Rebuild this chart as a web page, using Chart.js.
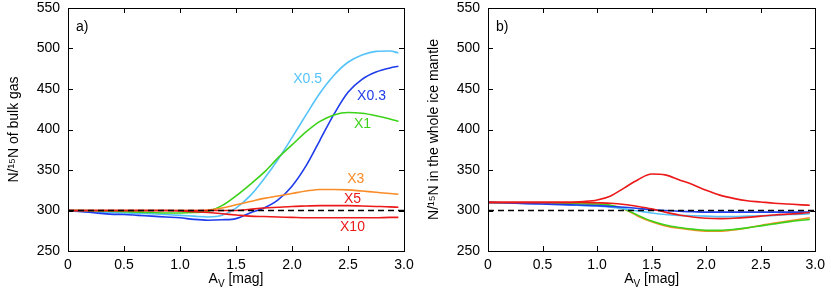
<!DOCTYPE html>
<html>
<head>
<meta charset="utf-8">
<script src="https://cdn.jsdelivr.net/npm/chart.js@4"></script>
<style>
    body { margin: 0; background: #fff; }
    #wrap { position: relative; width: 831px; height: 297px; }
    .panel { position: absolute; top: 0; height: 297px; }
</style>
</head>
<body>
<div id="wrap">
    <div class="panel" style="left:0;width:420px"><canvas id="chartA" width="420" height="297"></canvas></div>
    <div class="panel" style="left:420px;width:411px"><canvas id="chartB" width="411" height="297"></canvas></div>
</div>
<script>
// A_V grid (mag)
const av = [0, 0.125, 0.25, 0.375, 0.5, 0.625, 0.75, 0.875, 1.0, 1.125, 1.25, 1.375,
            1.5, 1.625, 1.75, 1.875, 2.0, 2.125, 2.25, 2.375, 2.5, 2.625, 2.75, 2.875, 2.95];

// a) bulk gas
const gasX05 = [300, 299, 298, 297.5, 297, 296.5, 296, 295, 294, 293, 292, 294,
                303, 318, 339, 363, 390, 418, 445, 467, 483, 492, 496.5, 497, 494.5];
const gasX03 = [300, 298.5, 297, 295.5, 295, 294, 293, 292, 291, 289, 288, 288.5,
                290, 297, 303, 313, 330, 355, 387, 419, 446, 462, 471, 476, 478];
const gasX1  = [300, 300, 299.5, 299, 298.5, 298, 297.5, 297, 297, 297.5, 299, 306,
                318, 332, 347, 365, 381, 397, 410, 418, 421, 420, 417, 413, 410];
const gasX3  = [300, 300, 300, 300, 300, 300, 300, 300, 300, 300, 300.5, 303,
                307, 311, 315, 318, 321, 324, 326, 326, 325.5, 324, 322.5, 321, 320];
const gasX5  = [300, 300, 300, 300, 300, 300, 300, 300, 300, 300, 300, 300,
                300, 301.5, 303, 304, 305, 305.5, 306, 306, 306, 305.5, 305, 304.5, 304];
const gasX10 = [300, 300, 300, 300, 300, 300, 300, 300, 299.5, 298.5, 297.5, 296,
                294.5, 293, 292.5, 292, 291.5, 291, 291, 291, 291, 291, 291, 291.5, 291.5];

// b) whole ice mantle
const iceX10 = [310, 310, 310, 310, 310, 310, 310, 311, 313, 318, 328, 338,
                345, 344, 338, 332, 325, 319, 315, 312, 310.5, 309, 308, 307, 306.5];
const iceX5  = [310, 310, 310, 310, 310, 310, 310, 310, 309.5, 309, 307.5, 305,
                302, 298, 294.5, 292, 290.5, 290, 290.5, 291.5, 293, 294.5, 295.5, 296.5, 297.5];
const iceX03 = [310, 309.5, 309, 308.5, 308, 307.5, 307, 306.5, 306, 305, 304, 302.5,
                301, 300, 299, 298.5, 298, 298, 298, 298, 298, 298, 298, 298, 298];
const iceX05 = [310, 309.5, 309, 308.5, 308, 307.5, 307, 306, 305.5, 304, 302, 299.5,
                297, 295, 294, 293.5, 293, 292.5, 292.5, 293, 293.5, 294, 295, 295.5, 296];
const iceX1  = [310, 309.5, 309.5, 309, 309, 308.5, 308.5, 308, 308, 306.5, 302, 294,
                287, 282, 279, 277, 275.5, 275.5, 276.5, 278.5, 281, 283.5, 286, 288, 289];
const iceX3  = [310, 309.5, 309.5, 309, 309, 308.5, 308.5, 308, 308, 306, 301.5, 293,
                286, 281, 278, 276, 274.5, 274.5, 276, 278.5, 281.5, 284.5, 287, 289.5, 291];

const solarRef = [300, 300];
const refX = [0, 3];

const xTicks = [0, 0.5, 1, 1.5, 2, 2.5, 3];
const yTicks = [250, 300, 350, 400, 450, 500, 550];

const colors = {
    'X0.5': 'rgb(85, 195, 250)',
    'X0.3': 'rgb(30, 60, 235)',
    'X1': 'rgb(60, 210, 25)',
    'X3': 'rgb(250, 140, 40)',
    'X5': 'rgb(235, 25, 25)',
    'X10': 'rgb(235, 25, 25)'
};
const FONT = '"Liberation Sans", Arial, sans-serif';

function pts(ys) { return ys.map((v, i) => ({ x: av[i], y: v })); }

function curve(name, ys) {
    return {
        label: name,
        data: pts(ys),
        borderColor: colors[name],
        borderWidth: 1.6,
        pointRadius: 0,
        fill: false,
        cubicInterpolationMode: 'monotone'
    };
}

function refLine() {
    return {
        label: 'ref',
        data: refX.map((x, i) => ({ x: x, y: solarRef[i] })),
        borderColor: '#000',
        borderWidth: 1.6,
        borderDash: [6, 4],
        pointRadius: 0,
        fill: false
    };
}

// frame, inward ticks, panel letter, notes and x title
const framePlugin = {
    id: 'frame',
    afterDatasetsDraw(chart, args, opts) {
        const { ctx, chartArea: a, scales: { x, y } } = chart;
        ctx.save();
        ctx.strokeStyle = '#000';
        ctx.lineWidth = 1;
        ctx.strokeRect(Math.round(a.left) + 0.5, Math.round(a.top) + 0.5,
            Math.round(a.right - a.left), Math.round(a.bottom - a.top));
        const tl = 5;
        ctx.beginPath();
        xTicks.forEach(v => {
            const px = Math.round(x.getPixelForValue(v)) + 0.5;
            ctx.moveTo(px, a.bottom); ctx.lineTo(px, a.bottom - tl);
            ctx.moveTo(px, a.top); ctx.lineTo(px, a.top + tl);
        });
        yTicks.forEach(v => {
            const py = Math.round(y.getPixelForValue(v)) + 0.5;
            ctx.moveTo(a.left, py); ctx.lineTo(a.left + tl, py);
            ctx.moveTo(a.right, py); ctx.lineTo(a.right - tl, py);
        });
        ctx.stroke();

        ctx.fillStyle = '#000';
        ctx.font = '14px ' + FONT;
        ctx.textBaseline = 'middle';
        ctx.textAlign = 'left';
        ctx.fillText(opts.letter, a.left + 8, a.top + 19);

        ctx.textAlign = 'center';
        (opts.notes || []).forEach(n => {
            ctx.fillStyle = colors[n.name];
            ctx.fillText(n.name, x.getPixelForValue(n.at[0]), y.getPixelForValue(n.at[1]));
        });

        // x title: A_V [mag]
        ctx.fillStyle = '#000';
        ctx.textBaseline = 'alphabetic';
        ctx.textAlign = 'left';
        ctx.font = '14px ' + FONT;
        const wA = ctx.measureText('A').width;
        const wRest = ctx.measureText(' [mag]').width;
        ctx.font = '10px ' + FONT;
        const wV = ctx.measureText('V').width;
        const cx = (a.left + a.right) / 2;
        const tx = cx - (wA + wV + wRest) / 2;
        const base = 283;
        ctx.font = '14px ' + FONT;
        ctx.fillText('A', tx, base);
        ctx.font = '10px ' + FONT;
        ctx.fillText('V', tx + wA, base + 4);
        ctx.font = '14px ' + FONT;
        ctx.fillText(' [mag]', tx + wA + wV, base);
        ctx.restore();
    }
};

function makeChart(id, datasets, yTitle, rightPad, frameOpts) {
    const ctx = document.getElementById(id).getContext('2d');
    return new Chart(ctx, {
        type: 'line',
        data: { datasets: datasets },
        options: {
            responsive: false,
            animation: false,
            layout: { padding: { top: 0, right: rightPad, bottom: 0, left: 0 } },
            plugins: {
                legend: { display: false },
                tooltip: { enabled: false },
                frame: frameOpts
            },
            scales: {
                x: {
                    type: 'linear',
                    min: 0,
                    max: 3,
                    afterFit: s => { s.height = 46; },
                    grid: { display: false, drawTicks: false, tickLength: 0 },
                    border: { display: false },
                    afterBuildTicks: s => { s.ticks = xTicks.map(v => ({ value: v })); },
                    ticks: { color: '#000', padding: 6, maxRotation: 0, font: { family: FONT, size: 14 } }
                },
                y: {
                    min: 250,
                    max: 550,
                    afterFit: s => { s.width = 68; s.paddingTop = 8; s.paddingBottom = 8; },
                    grid: { display: false, drawTicks: false, tickLength: 0 },
                    border: { display: false },
                    afterBuildTicks: s => { s.ticks = yTicks.map(v => ({ value: v })); },
                    ticks: { color: '#000', padding: 8, font: { family: FONT, size: 14 } },
                    title: {
                        display: true,
                        text: yTitle,
                        color: '#000',
                        padding: { top: 6, bottom: 0 },
                        font: { family: FONT, size: 14 }
                    }
                }
            }
        },
        plugins: [framePlugin]
    });
}

makeChart('chartA', [
    refLine(),
    curve('X10', gasX10),
    curve('X5', gasX5),
    curve('X3', gasX3),
    curve('X1', gasX1),
    curve('X0.3', gasX03),
    curve('X0.5', gasX05)
], 'N/\u00B9\u2075N of bulk gas', 16, {
    letter: 'a)',
    notes: [
        { name: 'X0.5', at: [2.14, 462] },
        { name: 'X0.3', at: [2.71, 441] },
        { name: 'X1', at: [2.63, 406] },
        { name: 'X3', at: [2.57, 339] },
        { name: 'X5', at: [2.54, 314] },
        { name: 'X10', at: [2.54, 280] }
    ]
});

makeChart('chartB', [
    refLine(),
    curve('X10', iceX10),
    curve('X5', iceX5),
    curve('X0.3', iceX03),
    curve('X0.5', iceX05),
    curve('X1', iceX1),
    curve('X3', iceX3)
], 'N/\u00B9\u2075N in the whole ice mantle', 7, {
    letter: 'b)',
    notes: []
});
</script>
</body>
</html>
